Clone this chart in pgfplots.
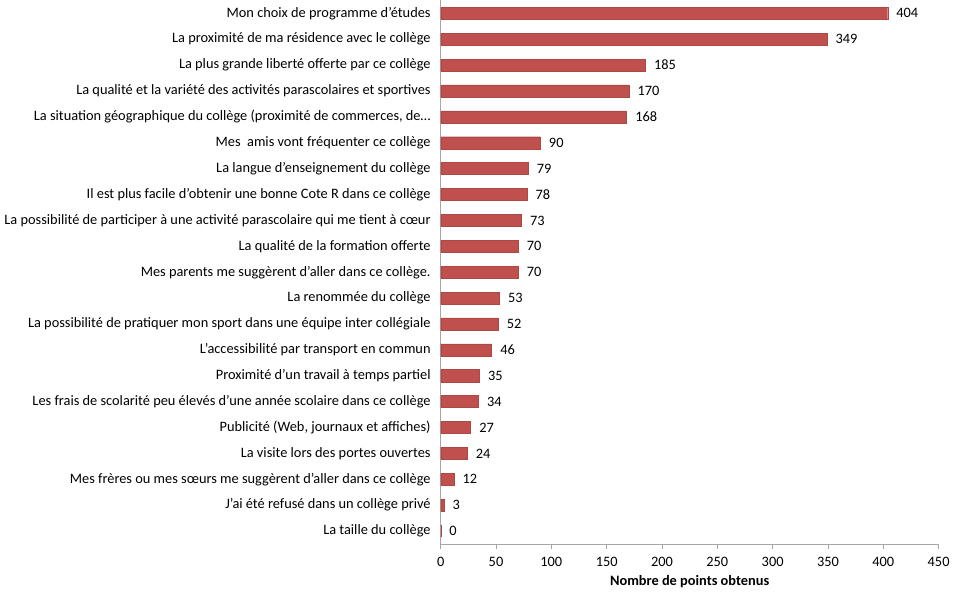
\documentclass[border=0pt]{standalone}
\usepackage{pgfplots}
\pgfplotsset{compat=1.18}
\usepackage{fontspec}
\setmainfont{Carlito}
\definecolor{barred}{HTML}{C0504D}
\definecolor{axgray}{HTML}{A6A6A6}
\begin{document}
\begin{tikzpicture}
\begin{axis}[
  scale only axis,
  width=371pt, height=405pt,
  xbar, bar width=9pt,
  y dir=reverse,
  xmin=0, xmax=450,
  ymin=-0.5, ymax=20.5,
  xtick={0,50,...,450},
  ytick={0,...,20},
  yticklabels={
    {Mon choix de programme d’études},
    {La proximité de ma résidence avec le collège},
    {La plus grande liberté offerte par ce collège},
    {La qualité et la variété des activités parascolaires et sportives},
    {La situation géographique du collège (proximité de commerces, de…},
    {Mes\ \ amis vont fréquenter ce collège},
    {La langue d’enseignement du collège},
    {Il est plus facile d’obtenir une bonne Cote R dans ce collège},
    {La possibilité de participer à une activité parascolaire qui me tient à cœur},
    {La qualité de la formation offerte},
    {Mes parents me suggèrent d’aller dans ce collège.},
    {La renommée du collège},
    {La possibilité de pratiquer mon sport dans une équipe inter collégiale},
    {L’accessibilité par transport en commun},
    {Proximité d’un travail à temps partiel},
    {Les frais de scolarité peu élevés d’une année scolaire dans ce collège},
    {Publicité (Web, journaux et affiches)},
    {La visite lors des portes ouvertes},
    {Mes frères ou mes sœurs me suggèrent d’aller dans ce collège},
    {J’ai été refusé dans un collège privé},
    {La taille du collège}},
  axis x line*=bottom,
  axis y line*=left,
  axis line style={axgray, line width=0.6pt},
  x tick style={axgray, line width=0.6pt},
  tick align=outside,
  major tick length=4pt,
  y tick style={draw=none},
  tick label style={font=\fontsize{10.7}{12.5}\selectfont, text=black},
  xticklabel style={yshift=-2pt},
  /pgf/number format/assume math mode=true,
  xlabel={\textbf{Nombre de points obtenus}},
  xlabel style={font=\fontsize{10.7}{12.5}\selectfont, yshift=0pt},
  nodes near coords,
  nodes near coords align={horizontal},
  every node near coord/.append style={font=\fontsize{10.7}{12.5}\selectfont, text=black, xshift=3pt},
  clip=false,
]
\addplot[fill=barred, draw=barred!90!black, line width=0.3pt] coordinates {
(404,0) (349,1) (185,2) (170,3) (168,4) (90,5) (79,6) (78,7) (73,8) (70,9)
(70,10) (53,11) (52,12) (46,13) (35,14) (34,15) (27,16) (24,17) (12,18) (3,19) (0,20)
};
\end{axis}
\end{tikzpicture}
\end{document}
